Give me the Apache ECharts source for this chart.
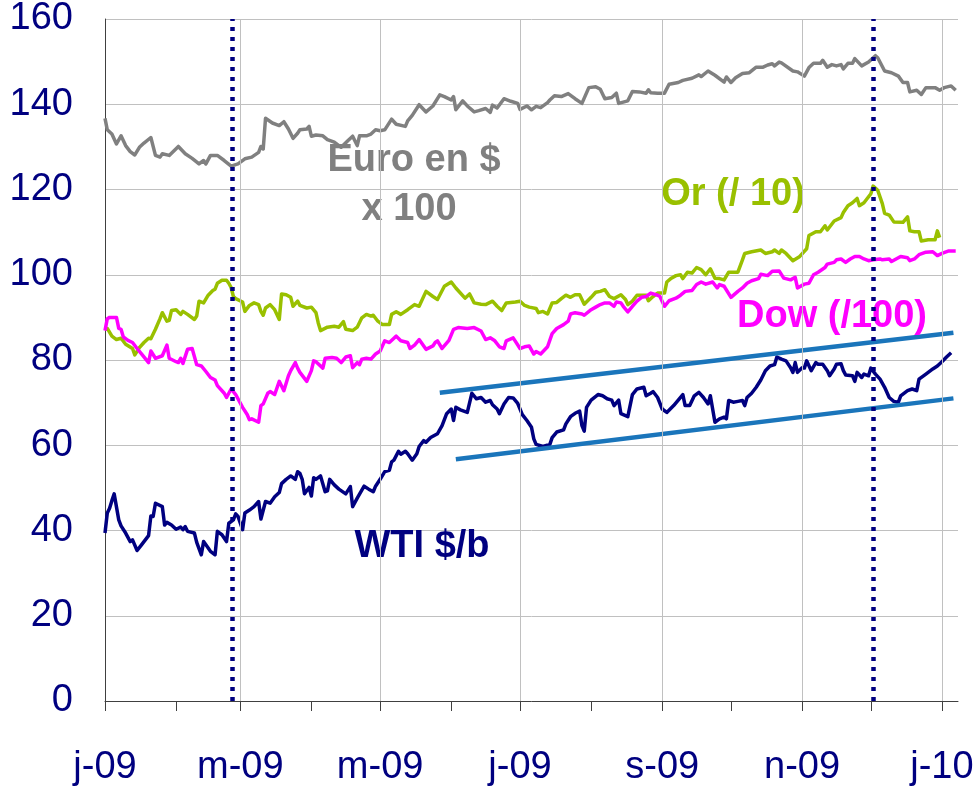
<!DOCTYPE html>
<html>
<head>
<meta charset="utf-8">
<title>WTI, Or, Dow, Euro - 2009</title>
<script src="https://cdn.jsdelivr.net/npm/echarts@6/dist/echarts.min.js"></script>
<style>
  html, body { margin: 0; padding: 0; background: #fff; }
  #chart { width: 980px; height: 787px; }
</style>
</head>
<body>
<div id="chart"></div>
<script>
// axe des x : jours comptes depuis le 1er janvier 2009
var tickDays  = [0, 31, 59, 90, 120, 151, 181, 212, 243, 273, 304, 334, 365];
var labelDays = [0, 59, 120, 181, 243, 304, 365];
var labelText = ['j-09', 'm-09', 'm-09', 'j-09', 's-09', 'n-09', 'j-10'];
var gridDays  = [59, 120, 181, 243, 304, 365];
var eventDays = [55.5, 335];   // les deux pointilles

// Euro en $ x 100
var euroDay = [0,1,3,5,7,9,11,13,15,17,
  20,22,24,25,28,32,35,38,41,43,
  44,46,49,52,55,58,61,64,67,68,
  69,70,73,76,78,80,82,84,85,88,
  89,90,92,95,97,100,103,106,108,110,
  111,114,116,118,120,122,125,127,131,132,
  134,137,140,143,146,148,151,152,153,156,
  158,161,163,166,168,169,171,174,177,180,
  181,184,186,188,190,193,194,196,199,202,
  205,208,211,214,216,218,221,223,224,228,
  230,233,236,237,238,241,244,246,250,252,
  256,259,260,263,266,270,271,273,275,278,
  281,284,287,289,291,292,294,295,300,302,
  305,307,309,312,313,315,317,319,321,322,
  324,326,327,330,333,336,337,340,343,346,
  348,350,351,354,356,358,362,364,366,369,
  371];
var euroVal = [136.7,134.0,133.0,130.7,132.6,130.3,128.9,128.1,129.9,130.9,
  132.2,128.0,127.6,128.4,128.0,130.1,128.4,127.3,126.0,126.8,
  126.0,128.0,128.0,126.8,125.5,126.0,127.2,127.6,128.7,130.1,
  129.5,136.7,135.6,135.0,135.9,134.2,132.0,133.2,134.0,134.2,
  134.8,132.5,132.8,132.6,131.7,131.1,129.9,131.5,132.5,130.3,
  132.6,132.6,133.0,134.0,133.8,134.0,136.5,135.3,134.8,136.1,
  137.4,139.9,138.2,139.6,142.2,141.8,141.0,141.8,138.7,140.8,
  139.6,138.2,138.5,139.0,138.1,139.8,139.1,141.3,140.7,140.2,
  138.8,139.6,138.7,139.5,139.2,140.4,141.0,142.0,141.8,142.5,
  141.3,140.2,143.9,144.1,143.5,141.3,141.6,142.6,140.2,140.8,
  143.0,142.9,142.6,143.4,142.7,142.6,142.6,144.7,145.1,145.6,
  146.1,146.9,146.5,147.8,146.8,145.2,146.4,145.1,146.2,147.2,
  147.4,148.7,148.7,149.2,149.5,149.0,149.9,149.7,147.8,147.6,
  146.6,148.6,149.6,149.6,150.3,148.7,149.3,149.0,149.3,148.3,
  149.6,149.6,150.7,149.0,149.9,151.4,150.9,147.8,147.4,146.6,
  145.1,145.1,142.9,143.3,142.3,143.9,143.9,143.3,143.9,144.3,
  143.3];

// Or (/ 10)
var orDay = [0,1,3,5,7,9,12,13,15,17,
  19,20,22,24,25,27,28,29,31,33,
  34,36,39,40,41,43,45,47,48,49,
  51,53,54,55,56,57,60,61,63,65,
  67,68,69,70,72,74,76,77,79,81,
  82,84,85,88,90,92,93,94,97,100,
  102,104,105,108,110,112,114,116,117,119,
  121,124,125,127,129,132,135,137,140,143,
  145,148,151,153,157,159,161,164,166,169,
  171,173,175,179,181,183,185,188,189,
  191,193,195,197,199,201,203,205,207,209,
  212,214,216,218,220,222,225,227,228,230,
  232,234,236,237,239,241,244,245,247,249,
  251,252,254,256,258,260,262,264,266,268,
  270,272,276,278,279,282,286,288,291,292,
  294,295,297,300,303,306,307,310,312,314,
  315,318,321,322,324,326,328,329,331,334,
  335,337,339,340,342,344,348,350,351,353,
  355,356,359,362,363,364];
var orVal = [87.2,87.4,85.6,84.8,85.1,83.7,82.7,81.2,82.9,84.1,
  85.1,85.0,87.2,89.7,91.1,89.1,89.3,91.6,91.8,90.7,
  91.4,90.7,89.5,90.3,93.8,93.4,95.2,96.3,96.6,98.0,
  98.7,98.7,98.0,97.0,94.9,94.4,93.6,91.4,92.8,93.4,
  93.0,91.4,90.5,92.2,93.0,91.8,89.5,95.5,95.3,94.7,
  92.6,93.8,92.8,92.2,92.4,91.1,88.7,86.9,87.7,87.9,
  87.7,89.0,87.2,86.9,87.7,89.9,90.7,90.3,90.5,89.1,
  88.3,88.3,90.7,91.3,90.7,91.8,93.0,92.6,96.1,94.9,
  94.2,97.3,98.3,96.9,94.5,95.5,93.4,93.1,93.0,93.8,
  92.6,91.6,93.4,93.6,93.8,92.8,92.4,92.1,91.1,
  91.4,90.8,93.4,93.5,94.4,95.2,94.7,95.3,95.3,93.1,
  94.7,95.9,96.1,96.5,94.9,94.4,95.3,94.2,93.0,93.8,
  95.2,95.2,95.2,93.9,94.9,95.7,95.7,98.3,99.2,99.8,
  100.0,99.1,100.6,100.4,101.7,101.2,100.0,101.4,99.2,99.1,
  98.8,100.6,100.6,103.5,105.0,105.4,105.8,105.0,105.4,105.8,
  105.0,105.8,105.0,103.3,104.3,106.1,109.2,110.1,110.1,111.5,
  110.5,112.6,113.4,114.6,116.2,116.9,117.9,116.2,116.9,119.0,
  120.8,119.8,116.7,114.4,114.0,112.4,112.3,113.6,110.3,110.1,
  110.1,107.9,108.2,108.2,110.3,108.7];

// Dow (/100)
var dowDay = [0,1,2,5,6,7,8,10,12,14,
  16,19,20,22,25,27,28,31,32,33,
  34,36,38,40,42,44,46,48,49,52,
  53,55,57,60,62,63,64,67,68,69,
  71,72,74,76,78,80,81,83,84,85,
  88,90,91,92,95,96,99,101,103,105,
  107,108,110,111,112,114,116,118,120,122,
  124,126,127,129,132,133,135,137,140,143,
  144,145,147,150,152,154,158,161,164,166,
  168,170,172,174,175,178,181,183,185,187,
  188,190,193,195,197,200,202,203,205,208,
  209,212,214,216,218,220,222,223,225,226,
  228,230,232,234,236,238,241,242,244,246,
  249,251,253,256,258,260,262,265,267,268,
  270,273,276,278,280,282,285,286,289,291,
  294,296,299,301,302,305,307,309,311,314,
  315,318,319,321,323,325,327,329,331,333,
  335,338,339,342,343,345,347,350,351,353,
  355,358,361,363,365,368,371];
var dowVal = [86.9,89.7,90.0,90.0,87.4,87.2,85.4,84.6,84.1,82.7,
  81.4,79.4,82.1,80.4,81.0,83.5,80.4,79.6,79.4,80.4,
  79.2,82.5,82.7,78.9,78.6,77.3,75.9,75.3,74.0,72.2,
  71.2,73.2,71.9,68.9,67.2,66.0,66.2,65.4,69.3,69.7,
  72.2,72.6,71.9,75.0,72.8,76.3,77.5,79.4,78.1,77.1,
  75.0,77.5,79.8,79.6,78.1,80.4,80.6,80.4,79.4,80.7,
  81.0,78.2,79.4,78.9,80.2,80.4,80.2,81.4,82.1,84.5,
  84.1,85.1,85.6,84.5,84.1,82.7,83.5,84.8,82.5,83.3,
  84.1,84.5,82.7,84.6,87.2,87.6,87.4,87.6,86.8,84.8,
  85.2,84.5,83.1,82.7,84.5,85.2,82.7,83.1,83.3,81.4,
  82.0,81.4,83.1,86.2,87.4,88.3,89.1,90.8,91.1,90.8,
  90.5,91.8,92.4,93.0,93.4,93.4,92.6,93.6,93.4,92.6,
  91.3,92.6,93.8,94.7,94.9,95.7,95.2,94.9,92.6,93.9,
  94.5,95.2,96.1,96.3,97.7,98.3,97.8,98.3,96.9,97.7,
  97.3,94.7,96.1,96.9,98.0,98.6,99.1,100.1,99.8,100.8,
  100.9,99.2,98.8,99.4,96.9,97.8,98.0,100.0,100.6,101.7,
  102.5,102.9,103.5,103.7,102.9,103.7,104.3,104.3,103.7,103.3,
  103.5,103.7,103.5,103.7,103.1,103.7,104.3,104.0,103.3,103.7,
  104.7,105.3,105.4,104.5,105.0,105.6,105.6];

// WTI $/b
var wtiDay = [0,1,2,3,4,6,7,9,11,12,
  14,16,19,20,21,22,25,26,27,29,
  31,33,34,35,36,39,40,42,43,45,
  46,48,49,51,53,54,56,57,58,60,
  61,63,65,67,68,70,72,74,76,77,
  79,81,83,84,85,86,87,89,90,91,
  92,94,96,97,98,100,102,105,107,108,
  110,113,115,117,118,120,122,124,125,126,
  128,129,131,132,134,136,137,139,140,142,
  145,147,149,151,152,153,155,158,160,162,
  164,166,168,169,171,172,174,176,178,180,
  182,184,186,187,188,191,194,195,197,200,
  201,203,205,207,208,209,210,212,215,217,
  219,221,222,224,225,228,230,232,235,236,
  238,239,241,243,245,248,250,252,253,255,
  257,259,261,263,264,266,268,270,271,272,
  274,276,278,279,280,282,284,286,288,290,
  292,293,295,297,299,300,301,302,304,305,
  306,308,310,311,313,315,316,318,319,321,
  322,323,326,327,328,330,331,333,334,336,
  338,340,342,344,346,347,350,352,354,355,
  358,361,363,365,367,369];
var wtiVal = [39.4,44.1,45.2,47.0,48.6,42.5,41.1,39.4,37.4,37.8,
  35.3,36.7,38.8,43.4,43.3,46.4,45.6,41.3,41.9,41.3,
  40.3,40.8,40.2,40.9,39.8,39.4,37.2,34.3,37.4,35.9,
  35.1,34.3,39.8,39.0,37.4,41.7,42.5,43.9,43.3,40.2,
  44.1,44.8,45.6,46.8,42.7,46.8,46.4,47.9,48.9,51.0,
  52.0,52.8,52.0,53.8,53.4,52.0,48.6,50.1,48.1,52.4,
  52.0,52.8,49.1,49.3,52.0,50.7,49.7,48.6,50.3,45.6,
  47.6,50.4,49.7,49.1,50.4,52.0,53.8,54.1,56.1,56.5,
  58.6,57.9,58.6,58.0,56.5,58.0,59.7,61.1,60.7,61.8,
  62.7,64.6,67.4,68.5,65.8,68.9,68.3,67.7,72.2,70.9,
  71.2,70.1,70.5,69.5,68.5,67.4,69.7,71.2,71.1,69.8,
  67.2,65.8,64.2,61.5,60.2,59.7,60.2,61.8,63.1,63.6,
  65.0,66.7,67.5,68.0,64.6,63.3,68.9,70.6,71.9,71.6,
  70.9,70.6,69.3,70.6,67.4,66.7,71.9,73.2,73.6,71.6,
  72.2,72.6,71.2,68.5,67.7,69.3,70.6,71.9,69.3,69.3,
  71.6,72.4,71.2,69.7,71.6,65.4,66.2,66.6,66.2,70.5,
  70.1,70.3,70.5,69.3,71.2,72.2,73.6,75.3,77.5,78.6,
  78.9,80.7,80.2,79.8,78.2,77.1,79.4,77.1,78.2,78.1,
  79.8,77.5,79.4,79.0,79.0,77.5,76.3,77.9,79.0,79.1,
  77.5,76.5,76.3,75.0,77.1,75.9,76.7,76.3,78.1,76.7,
  75.5,73.6,71.2,70.3,70.1,71.6,72.8,73.2,72.8,75.5,
  76.7,77.9,78.6,79.6,80.7,81.7];

// canal de tendance du WTI
var trendUpDay = [146, 370];
var trendUpVal = [72.3, 86.4];
var trendLowDay = [153, 370];
var trendLowVal = [56.7, 71.0];

function pairs(days, vals) {
  return days.map(function (d, i) { return [d, vals[i]]; });
}

var font = '"Liberation Sans", Arial, sans-serif';

function serie(name, days, vals, color, z) {
  return {
    name: name,
    type: 'line',
    data: pairs(days, vals),
    showSymbol: false,
    symbol: 'none',
    z: z,
    lineStyle: { color: color, width: 3.5, join: 'round' },
    silent: true
  };
}

function vLines(days, style, z) {
  return {
    type: 'line',
    data: [],
    z: z,
    silent: true,
    markLine: {
      silent: true,
      symbol: ['none', 'none'],
      label: { show: false },
      lineStyle: style,
      emphasis: { disabled: true },
      data: days.map(function (d) { return { xAxis: d }; })
    }
  };
}

var chart = echarts.init(document.getElementById('chart'));

var option = {
  animation: false,
  backgroundColor: '#fff',
  grid: { left: 105, right: 22, top: 17, bottom: 85 },
  xAxis: {
    type: 'value',
    min: 0,
    max: 372,
    axisLine: { show: true, lineStyle: { color: '#404040', width: 1 } },
    axisTick: { show: true, customValues: tickDays, length: 10, lineStyle: { color: '#404040' } },
    axisLabel: {
      customValues: labelDays,
      formatter: function (v) { return labelText[labelDays.indexOf(v)]; },
      color: '#000080',
      fontSize: 38,
      fontFamily: font,
      margin: 48
    },
    splitLine: { show: false }
  },
  yAxis: {
    type: 'value',
    min: 0,
    max: 160,
    interval: 20,
    axisLine: { show: true, lineStyle: { color: '#404040', width: 1 } },
    axisTick: { show: false },
    axisLabel: { color: '#000080', fontSize: 38, fontFamily: font, margin: 32, padding: [10, 0, 0, 0] },
    splitLine: { lineStyle: { color: '#c0c0c0', width: 1 } }
  },
  series: [
    vLines(gridDays, { color: '#c0c0c0', width: 1, type: 'solid' }, 1),
    serie('Euro', euroDay, euroVal, '#808080', 2),
    serie('Or', orDay, orVal, '#99c000', 2),
    serie('Dow', dowDay, dowVal, '#ff00ff', 2),
    serie('WTI', wtiDay, wtiVal, '#000080', 2),
    {
      type: 'line', data: pairs(trendUpDay, trendUpVal), symbol: 'none', z: 3, silent: true,
      lineStyle: { color: '#1a75bb', width: 4.5 }
    },
    {
      type: 'line', data: pairs(trendLowDay, trendLowVal), symbol: 'none', z: 3, silent: true,
      lineStyle: { color: '#1a75bb', width: 4.5 }
    },
    vLines(eventDays, { color: '#000080', width: 4.5, type: [4, 6], cap: 'butt' }, 6)
  ],
  graphic: [
    { type: 'text', x: 414, y: 161, z: 4, style: { text: 'Euro en $', fill: '#808080', font: 'bold 38px ' + font, align: 'center', verticalAlign: 'middle' } },
    { type: 'text', x: 409, y: 210, z: 4, style: { text: 'x 100', fill: '#808080', font: 'bold 38px ' + font, align: 'center', verticalAlign: 'middle' } },
    { type: 'text', x: 733, y: 195, z: 4, style: { text: 'Or (/ 10)', fill: '#99c000', font: 'bold 38px ' + font, align: 'center', verticalAlign: 'middle' } },
    { type: 'text', x: 832, y: 317, z: 4, style: { text: 'Dow (/100)', fill: '#ff00ff', font: 'bold 38px ' + font, align: 'center', verticalAlign: 'middle' } },
    { type: 'text', x: 422, y: 547, z: 4, style: { text: 'WTI $/b', fill: '#000080', font: 'bold 38px ' + font, align: 'center', verticalAlign: 'middle' } }
  ]
};

chart.setOption(option);
</script>
</body>
</html>
